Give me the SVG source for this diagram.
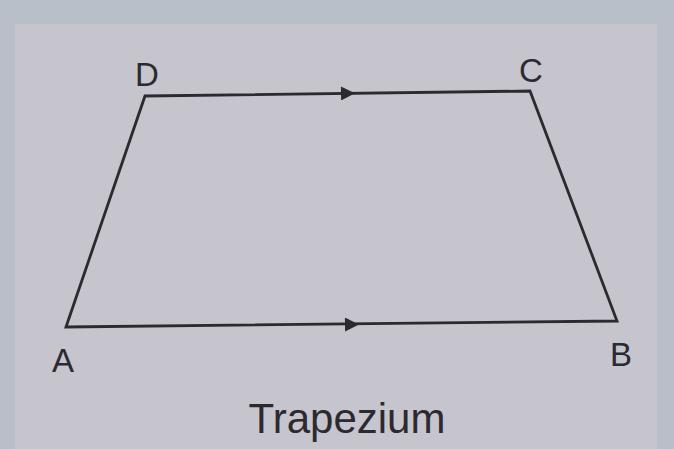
<svg xmlns="http://www.w3.org/2000/svg" width="674" height="449" viewBox="0 0 674 449">
<defs>
<style>
.lbl{font-family:"Liberation Sans",Arial,sans-serif;fill:#2b2a30;}
.edge{stroke:#2b2a30;stroke-width:2.8;fill:none;stroke-linejoin:miter;}
</style>
<marker id="arr" viewBox="0 0 10 10" refX="5" refY="5" markerWidth="22" markerHeight="14" markerUnits="userSpaceOnUse" orient="auto">
<path d="M0,0 L10,5 L0,10 z" fill="#2b2a30"/>
</marker>
</defs>
<rect width="674" height="449" fill="#b9bfc8"/>
<rect x="15" y="24" width="642" height="425" fill="#c6c4cc"/>
<g id="connectors">
<polygon class="edge" points="66,327 145,96 530,91 617,321"/>
<path d="M145,96 L348,93.4" fill="none" stroke="none" marker-end="url(#arr)"/>
<path d="M66,327 L352,324.5" fill="none" stroke="none" marker-end="url(#arr)"/>
</g>
<g id="A"><text class="lbl" x="63" y="372" font-size="33" text-anchor="middle">A</text></g>
<g id="B"><text class="lbl" x="621" y="366" font-size="33" text-anchor="middle">B</text></g>
<g id="C"><text class="lbl" x="531" y="82" font-size="33" text-anchor="middle">C</text></g>
<g id="D"><text class="lbl" x="147" y="86" font-size="33" text-anchor="middle">D</text></g>
<g id="title"><text class="lbl" x="347" y="433" font-size="42" text-anchor="middle">Trapezium</text></g>
</svg>
